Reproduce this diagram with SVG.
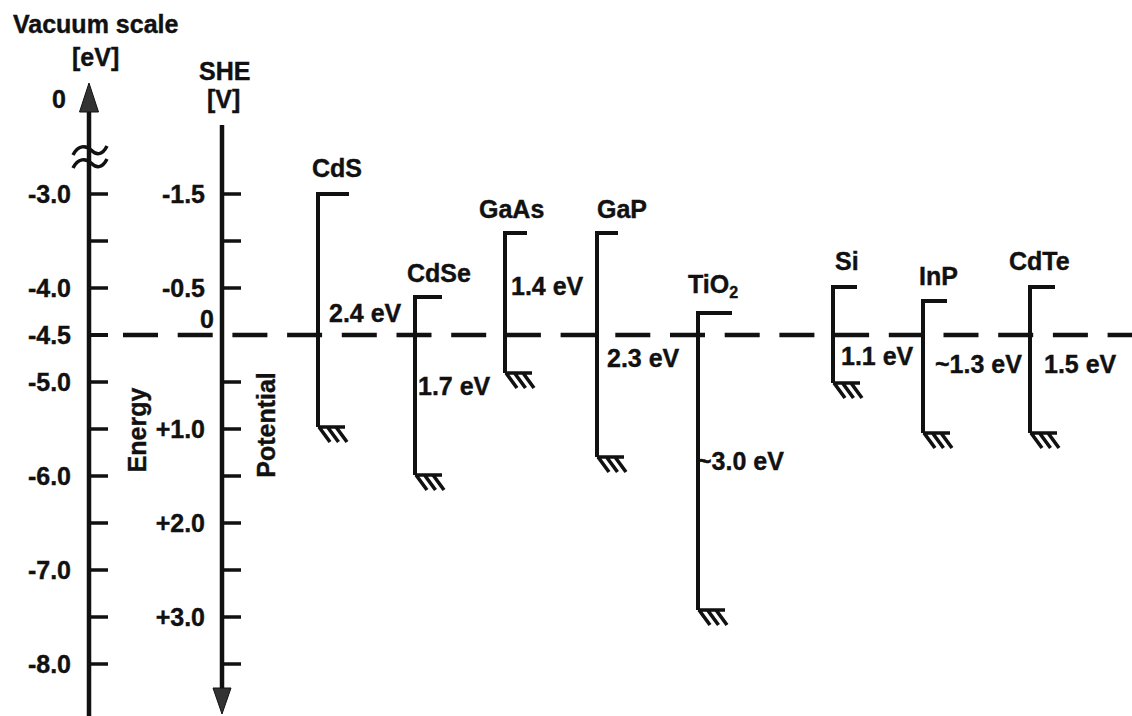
<svg xmlns="http://www.w3.org/2000/svg" width="1132" height="716" viewBox="0 0 1132 716">
<style>
text{font-family:"Liberation Sans",Arial,sans-serif;font-weight:bold;font-size:25px;fill:#111;stroke:#111;stroke-width:0.4}
.ax{stroke:#111;stroke-width:4.5;fill:none}
.tk{stroke:#111;stroke-width:3.5;fill:none}
.bar{stroke:#111;stroke-width:4;fill:none;stroke-linejoin:miter}
.r{text-anchor:end}
.m{text-anchor:middle}
</style>
<defs>
<g id="hatch">
<path d="M0,0 H27 M1,0 l11,15 M9.5,0 l11,15 M18,0 l11,15" stroke="#111" stroke-width="3.6" fill="none"/>
</g>
</defs>
<rect width="1132" height="716" fill="#fff"/>

<g id="title">
<text x="13" y="33">Vacuum scale</text>
<text x="72" y="66">[eV]</text>
<text x="199" y="80">SHE</text>
<text x="207" y="108">[V]</text>
</g>

<g id="axis-vacuum">
<line class="ax" x1="89" y1="108" x2="89" y2="716"/>
<path d="M89,83 L98.5,112 L79.5,112 Z" fill="#333" stroke="#111" stroke-width="1"/>
<path d="M73,155 C78,145 86,145 91,150 C96,155 102,156 107,146 M73,168 C78,158 86,158 91,163 C96,168 102,169 107,159" stroke="#111" stroke-width="3.5" fill="none"/>
<path class="tk" d="M89,194 H108 M89,241 H108 M89,288 H108 M89,335 H108 M89,382 H108 M89,429 H108 M89,476 H108 M89,523 H108 M89,570 H108 M89,617 H108 M89,664 H108"/>
<text x="52" y="108">0</text>
<text class="r" x="71" y="203">-3.0</text>
<text class="r" x="71" y="297">-4.0</text>
<text class="r" x="71" y="344">-4.5</text>
<text class="r" x="71" y="391">-5.0</text>
<text class="r" x="71" y="485">-6.0</text>
<text class="r" x="71" y="579">-7.0</text>
<text class="r" x="71" y="673">-8.0</text>
<text class="m" transform="translate(146,430) rotate(-90)">Energy</text>
</g>

<g id="axis-she">
<line class="ax" x1="222" y1="125" x2="222" y2="692"/>
<path d="M222,714 L231,688 L213,688 Z" fill="#333" stroke="#111" stroke-width="1"/>
<path class="tk" d="M222,194 H241 M222,241 H241 M222,288 H241 M222,382 H241 M222,429 H241 M222,476 H241 M222,523 H241 M222,570 H241 M222,617 H241 M222,664 H241"/>
<text class="r" x="205" y="203">-1.5</text>
<text class="r" x="205" y="297">-0.5</text>
<text class="r" x="214" y="328">0</text>
<text class="r" x="205" y="438">+1.0</text>
<text class="r" x="205" y="532">+2.0</text>
<text class="r" x="205" y="626">+3.0</text>
<text class="m" transform="translate(275,425) rotate(-90)">Potential</text>
</g>

<g id="connectors">
<line x1="123" y1="335" x2="1132" y2="335" stroke="#111" stroke-width="4.5" stroke-dasharray="35 19.7"/>
<line x1="89" y1="335" x2="108" y2="335" stroke="#111" stroke-width="4"/>
</g>

<g id="CdS">
<path class="bar" d="M349,194 H318 V427"/>
<use href="#hatch" x="318" y="427"/>
<text x="312" y="177">CdS</text>
<text x="329" y="322">2.4 eV</text>
</g>

<g id="CdSe">
<path class="bar" d="M442,297 H415 V475"/>
<use href="#hatch" x="415" y="475"/>
<text x="407" y="282">CdSe</text>
<text x="418" y="395">1.7 eV</text>
</g>

<g id="GaAs">
<path class="bar" d="M527,233 H505 V373"/>
<use href="#hatch" x="505" y="373"/>
<text x="479" y="218">GaAs</text>
<text x="511" y="295">1.4 eV</text>
</g>

<g id="GaP">
<path class="bar" d="M618,233 H597 V457"/>
<use href="#hatch" x="597" y="457"/>
<text x="597" y="218">GaP</text>
<text x="607" y="367">2.3 eV</text>
</g>

<g id="TiO2">
<path class="bar" d="M732,313 H698 V610"/>
<use href="#hatch" x="698" y="610"/>
<text x="688" y="293">TiO<tspan font-size="16" dy="5">2</tspan></text>
<text x="697" y="470">~3.0 eV</text>
</g>

<g id="Si">
<path class="bar" d="M857,287 H833 V383"/>
<use href="#hatch" x="833" y="383"/>
<text x="835" y="270">Si</text>
<text x="841" y="365">1.1 eV</text>
</g>

<g id="InP">
<path class="bar" d="M947,301 H923 V433"/>
<use href="#hatch" x="923" y="433"/>
<text x="919" y="285">InP</text>
<text x="935" y="373">~1.3 eV</text>
</g>

<g id="CdTe">
<path class="bar" d="M1055,287 H1030 V433"/>
<use href="#hatch" x="1030" y="433"/>
<text x="1009" y="270">CdTe</text>
<text x="1044" y="373">1.5 eV</text>
</g>
</svg>
